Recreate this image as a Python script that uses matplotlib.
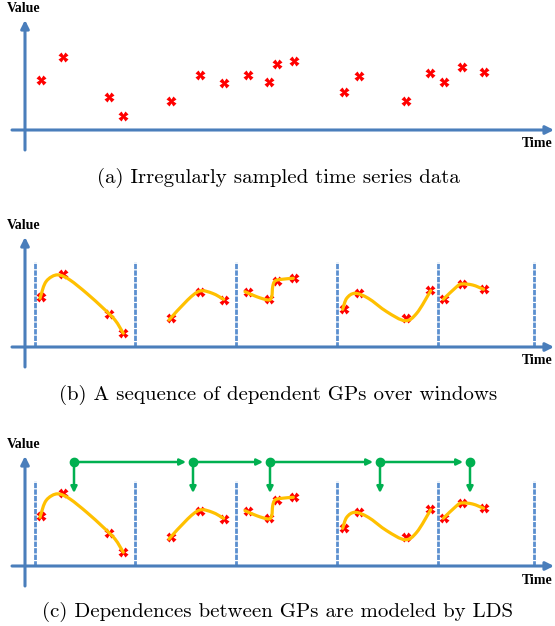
import numpy as np
import matplotlib.pyplot as plt
from matplotlib.path import Path
from matplotlib.patches import PathPatch

plt.rcParams['lines.scale_dashes'] = False

# observations (time, value) -- same samples in all three panels
obs_t = [16, 38, 84, 98, 146, 175, 199, 223, 244, 252, 269, 319, 334, 381, 405, 419, 437, 459]
obs_v = [50, 73, 33, 14, 29, 55, 47, 55, 48, 66, 69, 38, 54, 29, 57, 48, 63, 58]

# window boundaries
win_t = [10, 110, 211, 312, 413, 509]
win_top = 85

# GP mean curve knots per window
gp_t = [
    [15, 20, 26.7, 34.3, 45, 61.7, 78.3, 90, 98.3],
    [144, 162.6, 175, 187.4, 198.7],
    [220, 231.7, 243.3, 246.7, 247.7, 250, 256.7, 268.3],
    [317.7, 321.7, 330, 343.3, 361.7, 380, 391.7, 405.7],
    [418.3, 431.7, 436.6, 447.6, 458.6],
]
gp_v = [
    [48.7, 63.7, 70.3, 72, 67, 53.7, 38.7, 27, 13.7],
    [27, 47, 56, 53.7, 47.7],
    [55.3, 50.3, 47, 50.3, 60.3, 66, 67.7, 68.7],
    [37.7, 48.7, 53.7, 48.7, 35.3, 26.3, 33.7, 56.3],
    [47.7, 60.3, 63, 62, 57.7],
]

# LDS latent states (panel c)
lds_t = [49, 168, 245, 355, 445]
lds_v = 104
lds_down = 73

captions = ["(a) Irregularly sampled time series data",
            "(b) A sequence of dependent GPs over windows",
            "(c) Dependences between GPs are modeled by LDS"]

blue = '#4a7ebb'
dash_blue = '#5b8fcf'
red = '#ff0000'
yellow = '#ffc000'
green = '#00b050'

W, H = 555, 626
fig = plt.figure(figsize=(W / 100, H / 100), dpi=100)

# (pixel top, pixel bottom, pixel y of time axis, pixel y of caption) for each panel
panels = [(0, 200, 130, 178), (200, 410, 347, 395), (410, 626, 566, 612)]
x0 = 25  # pixel x of the value axis


def smooth(ts, vs):
    # catmull-rom through knots, handed to matplotlib as cubic beziers
    p = np.column_stack([ts, vs]).astype(float)
    verts = [p[0]]
    codes = [Path.MOVETO]
    for i in range(len(p) - 1):
        a = p[i - 1] if i > 0 else p[i]
        b, c = p[i], p[i + 1]
        d = p[i + 2] if i + 2 < len(p) else p[i + 1]
        verts += [b + (c - a) / 6, c - (d - b) / 6, c]
        codes += [Path.CURVE4] * 3
    return Path(verts, codes)


for k, (top, bot, base, cap) in enumerate(panels):
    ax = fig.add_axes([0, 1 - bot / H, 1, (bot - top) / H])
    ax.set_xlim(-x0, W - x0)
    ax.set_ylim(base - bot, base - top)
    ax.axis('off')

    # axes arrows
    ax.annotate('', xy=(0, 110), xytext=(0, -20),
                arrowprops=dict(arrowstyle='-|>', color=blue, lw=2.2, mutation_scale=12,
                                shrinkA=0, shrinkB=0))
    ax.annotate('', xy=(W - x0 - 1, 0), xytext=(-13, 0),
                arrowprops=dict(arrowstyle='-|>', color=blue, lw=2.2, mutation_scale=12,
                                shrinkA=0, shrinkB=0))
    ax.text(-18, 121, 'Value', family='Liberation Serif', weight='bold', fontsize=10,
            ha='left', va='center')
    ax.text(W - x0 - 2, -14, 'Time', family='Liberation Serif', weight='bold', fontsize=10,
            ha='right', va='center')

    ax.plot(obs_t, obs_v, 'X', color=red, ms=6.5, mec='none', zorder=3)

    if k > 0:
        ax.vlines(win_t, 0, win_top, colors=dash_blue, lw=2.0, linestyles=(0, (3.8, 0.9)),
                  zorder=2)
        for ts, vs in zip(gp_t, gp_v):
            ax.add_patch(PathPatch(smooth(ts, vs), fc='none', ec=yellow, lw=2.3,
                                   capstyle='round', zorder=4))

    if k == 2:
        for i in range(len(lds_t) - 1):
            ax.annotate('', xy=(lds_t[i + 1], lds_v), xytext=(lds_t[i], lds_v),
                        arrowprops=dict(arrowstyle='-|>', color=green, lw=1.8,
                                        mutation_scale=9, shrinkA=0, shrinkB=5))
        for t in lds_t:
            ax.annotate('', xy=(t, lds_down), xytext=(t, lds_v),
                        arrowprops=dict(arrowstyle='-|>', color=green, lw=1.8,
                                        mutation_scale=9, shrinkA=0, shrinkB=0))
        ax.scatter(lds_t, [lds_v] * len(lds_t), s=36, color=green, zorder=5)

    ax.text(278 - x0, base - cap, captions[k],
            family='cmr10', fontsize=15, ha='center', va='center')

fig.savefig('out.png', dpi=100)
